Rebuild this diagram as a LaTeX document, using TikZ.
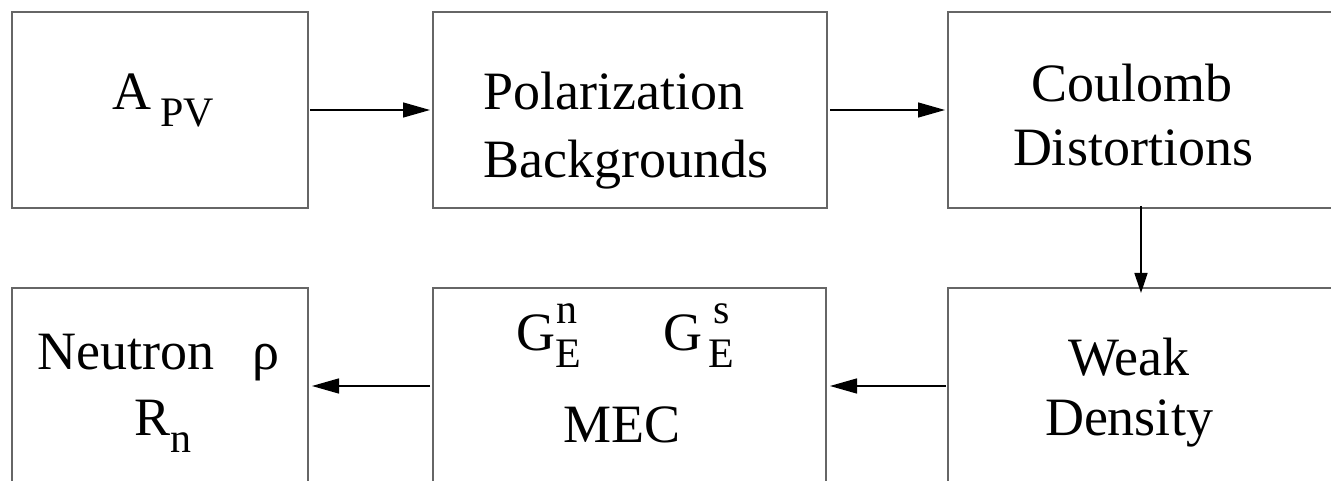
\documentclass[tikz,border=0pt]{standalone}
\usepackage{fontspec}
\setmainfont{Liberation Serif}
\usetikzlibrary{arrows.meta}
\begin{document}
\begin{tikzpicture}[x=1pt,y=-1pt,
  box/.style={draw=black!60,line width=2pt,minimum height=196pt,inner sep=0pt,outer sep=0pt},
  arr/.style={line width=1.5pt,-{Triangle[length=27pt,width=15pt]}},
  varr/.style={line width=1.5pt,-{Triangle[length=20pt,width=13pt]}},
  txt/.style={anchor=base west,inner sep=0pt,font=\fontsize{54}{64}\selectfont},
  sub/.style={anchor=base west,inner sep=0pt,font=\fontsize{42}{50}\selectfont}]
\useasboundingbox (0,0) rectangle (1331,481);
\clip (0,0) rectangle (1331,481);
% boxes
\node[box,minimum width=296pt] (b1) at (160,110) {};
\node[box,minimum width=394pt] (b2) at (630,110) {};
\node[box,minimum width=386pt] (b3) at (1141,110) {};
\node[box,minimum width=296pt] (b4) at (160,386) {};
\node[box,minimum width=393pt] (b5) at (629.5,386) {};
\node[box,minimum width=386pt] (b6) at (1141,386) {};
% texts
\node[txt] (a) at (112,110) {A};
\node[sub] (pv) at (160,127) {PV};
\node[txt] (pol) at (483,110) {Polarization};
\node[txt] (bg) at (483,178) {Backgrounds};
\node[txt,anchor=base] (cou) at (1132,102) {Coulomb};
\node[txt,anchor=base] (dis) at (1133,166) {Distortions};
\node[txt,anchor=base] (weak) at (1129,375) {Weak};
\node[txt,anchor=base] (den) at (1129,435) {Density};
\node[txt] (neu) at (37,369) {Neutron};
\node[txt] (rho) at (252,369) {ρ};
\node[txt] (r) at (134,435) {R};
\node[sub] (rn) at (170,452) {n};
\node[txt] (g1) at (516,350) {G};
\node[sub] (g1n) at (556,323) {n};
\node[sub] (g1e) at (555,367) {E};
\node[txt] (g2) at (663,350) {G};
\node[sub] (g2s) at (713,323) {s};
\node[sub] (g2e) at (708,367) {E};
\node[txt] (mec) at (563,442) {MEC};
% connectors
\draw[arr] ([xshift=2pt]b1.east) -- ([xshift=-3pt]b2.west);
\draw[arr] ([xshift=3pt]b2.east) -- ([xshift=-3pt]b3.west);
\draw[varr] ([yshift=2pt]b3.south) -- ([yshift=-5pt]b6.north);
\draw[arr] ([xshift=-2pt]b6.west) -- ([xshift=4pt]b5.east);
\draw[arr] ([xshift=-3pt]b5.west) -- ([xshift=4pt]b4.east);
\end{tikzpicture}
\end{document}
